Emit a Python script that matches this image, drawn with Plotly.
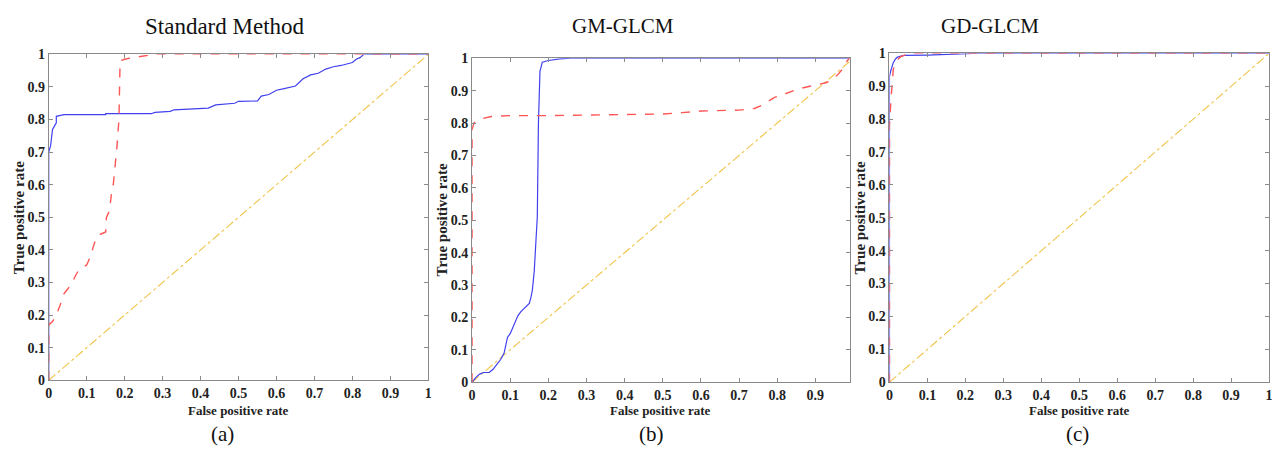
import plotly.graph_objects as go

W, H = 1285, 455

# ---------------- data ----------------
titles = ["Standard Method", "GM-GLCM", "GD-GLCM"]
sublabels = ["(a)", "(b)", "(c)"]
tick_vals = [0, 0.1, 0.2, 0.3, 0.4, 0.5, 0.6, 0.7, 0.8, 0.9, 1]
tick_text = ["0", "0.1", "0.2", "0.3", "0.4", "0.5", "0.6", "0.7", "0.8", "0.9", "1"]

# (a) Standard Method
a_blue_x = [0, 0, 0.005, 0.008, 0.01, 0.015, 0.02, 0.02, 0.04, 0.15, 0.15, 0.27, 0.28, 0.32, 0.33, 0.42,
            0.44, 0.49, 0.5, 0.55, 0.56, 0.58, 0.6, 0.62, 0.65, 0.67, 0.69, 0.71, 0.73, 0.75, 0.77, 0.8,
            0.81, 0.82, 0.83, 1.0]
a_blue_y = [0, 0.70, 0.72, 0.76, 0.77, 0.78, 0.79, 0.81, 0.815, 0.815, 0.818, 0.818, 0.822, 0.825, 0.83, 0.835,
            0.845, 0.85, 0.856, 0.857, 0.872, 0.877, 0.89, 0.895, 0.903, 0.925, 0.937, 0.942, 0.955, 0.962,
            0.966, 0.975, 0.985, 0.99, 1.0, 1.0]
a_red_x = [0, 0, 0.01, 0.02, 0.03, 0.04, 0.05, 0.06, 0.07, 0.08, 0.1, 0.11, 0.12, 0.13, 0.15, 0.152,
           0.16, 0.165, 0.17, 0.175, 0.18, 0.185, 0.188, 0.2, 0.22, 0.25, 0.28, 0.3, 1.0]
a_red_y = [0, 0.17, 0.18, 0.2, 0.23, 0.265, 0.28, 0.295, 0.32, 0.34, 0.354, 0.38, 0.42, 0.445, 0.455, 0.50,
           0.52, 0.57, 0.60, 0.65, 0.72, 0.8, 0.98, 0.985, 0.99, 0.995, 1.0, 1.0, 1.0]

# (b) GM-GLCM
b_blue_x = [0, 0.01, 0.02, 0.03, 0.045, 0.055, 0.065, 0.075, 0.084, 0.089, 0.093, 0.1, 0.11, 0.12, 0.128,
            0.14, 0.15, 0.154, 0.158, 0.163, 0.167, 0.171, 0.174, 0.176, 0.178, 0.18, 0.184, 0.2, 0.23,
            0.26, 0.99]
b_blue_y = [0, 0.015, 0.025, 0.03, 0.03, 0.04, 0.055, 0.07, 0.09, 0.124, 0.139, 0.15, 0.179, 0.205, 0.218,
            0.232, 0.243, 0.26, 0.283, 0.343, 0.42, 0.511, 0.8, 0.9, 0.96, 0.968, 0.988, 0.993, 0.998,
            1.0, 1.0]
b_red_x = [0, 0, 0.005, 0.02, 0.05, 0.1, 0.2, 0.3, 0.4, 0.5, 0.55, 0.6, 0.7, 0.74, 0.758, 0.78, 0.793,
           0.82, 0.854, 0.88, 0.906, 0.93, 0.958, 0.97, 0.984, 0.99]
b_red_y = [0, 0.78, 0.80, 0.812, 0.82, 0.823, 0.823, 0.825, 0.826, 0.828, 0.832, 0.837, 0.84, 0.845, 0.854,
           0.87, 0.879, 0.89, 0.905, 0.912, 0.919, 0.925, 0.948, 0.965, 0.993, 1.0]

# (c) GD-GLCM
c_blue_x = [0, 0, 0.003, 0.006, 0.01, 0.015, 0.02, 0.03, 0.04, 0.1, 0.12, 0.2, 0.22, 1.0]
c_blue_y = [0, 0.93, 0.945, 0.96, 0.972, 0.982, 0.988, 0.992, 0.994, 0.995, 0.996, 0.998, 1.0, 1.0]
c_red_x = [0, 0, 0.004, 0.007, 0.01, 0.015, 0.02, 0.03, 0.04, 0.06, 1.0]
c_red_y = [0, 0.78, 0.86, 0.91, 0.95, 0.97, 0.98, 0.99, 0.995, 1.0, 1.0]

diag_x = [0, 1]
diag_y = [0, 1]

x_max = [1.0, 0.99, 1.0]

# ---------------- layout ----------------
BLUE = "#4040f0"
RED = "#ff5555"
YELLOW = "#f0c44a"
FRAME = "#8a8a8a"
FONT = "Liberation Serif"

# pixel boxes of the plot areas (left, right, top, bottom)
boxes = [(45, 427, 49, 386), (471, 851, 53, 388), (891, 1273, 48, 388)]
title_cx = [222, 623, 992]
title_size = [23, 21, 21]
label_cx = [220, 652, 1080]

curves = [
    (a_blue_x, a_blue_y, a_red_x, a_red_y),
    (b_blue_x, b_blue_y, b_red_x, b_red_y),
    (c_blue_x, c_blue_y, c_red_x, c_red_y),
]

fig = go.Figure()
annotations = []

for i, (bx, by, rx, ry) in enumerate(curves):
    n = "" if i == 0 else str(i + 1)
    xa, ya = "x" + n, "y" + n
    fig.add_trace(go.Scatter(x=diag_x, y=diag_y, mode="lines", xaxis=xa, yaxis=ya,
                             line=dict(color=YELLOW, width=1.1, dash="dashdot"), showlegend=False))
    fig.add_trace(go.Scatter(x=bx, y=by, mode="lines", xaxis=xa, yaxis=ya,
                             line=dict(color=BLUE, width=1.2), showlegend=False))
    fig.add_trace(go.Scatter(x=rx, y=ry, mode="lines", xaxis=xa, yaxis=ya,
                             line=dict(color=RED, width=1.4, dash="dash"), showlegend=False))

    l, r, t, b = boxes[i]
    axis_common = dict(
        showline=True, linecolor=FRAME, linewidth=1, mirror="ticks",
        ticks="inside", ticklen=4, tickcolor=FRAME, tickwidth=1,
        showgrid=False, zeroline=False,
        tickvals=tick_vals, ticktext=["<b>" + s + "</b>" for s in tick_text],
        tickfont=dict(family=FONT, size=14, color="#222222"),
    )
    fig.update_layout(**{
        ("xaxis" + n): dict(axis_common, domain=[l / W, r / W], range=[0, x_max[i]],
                            anchor=ya),
        ("yaxis" + n): dict(axis_common, domain=[1 - b / H, 1 - t / H], range=[0, 1],
                            anchor=xa),
    })

    cx = (l + r) / 2
    cy = (t + b) / 2
    annotations.append(dict(text=titles[i], x=title_cx[i] / W, y=1 - 20 / H, xref="paper", yref="paper",
                            xanchor="center", yanchor="middle", showarrow=False,
                            font=dict(family=FONT, size=title_size[i], color="#111111")))
    annotations.append(dict(text=sublabels[i], x=label_cx[i] / W, y=1 - 442 / H, xref="paper", yref="paper",
                            xanchor="center", yanchor="middle", showarrow=False,
                            font=dict(family=FONT, size=21, color="#111111")))
    annotations.append(dict(text="<b>False positive rate</b>", x=cx / W, y=1 - 417 / H, xref="paper",
                            yref="paper", xanchor="center", yanchor="middle", showarrow=False,
                            font=dict(family=FONT, size=13, color="#222222")))
    annotations.append(dict(text="<b>True positive rate</b>", x=(l - 30) / W, y=1 - cy / H, xref="paper",
                            yref="paper", xanchor="center", yanchor="middle", showarrow=False,
                            textangle=-90,
                            font=dict(family=FONT, size=15, color="#222222")))

fig.update_layout(
    width=W, height=H,
    margin=dict(l=0, r=0, t=0, b=0),
    paper_bgcolor="white", plot_bgcolor="white",
    annotations=annotations,
    showlegend=False,
)

fig.write_html("out.html")
